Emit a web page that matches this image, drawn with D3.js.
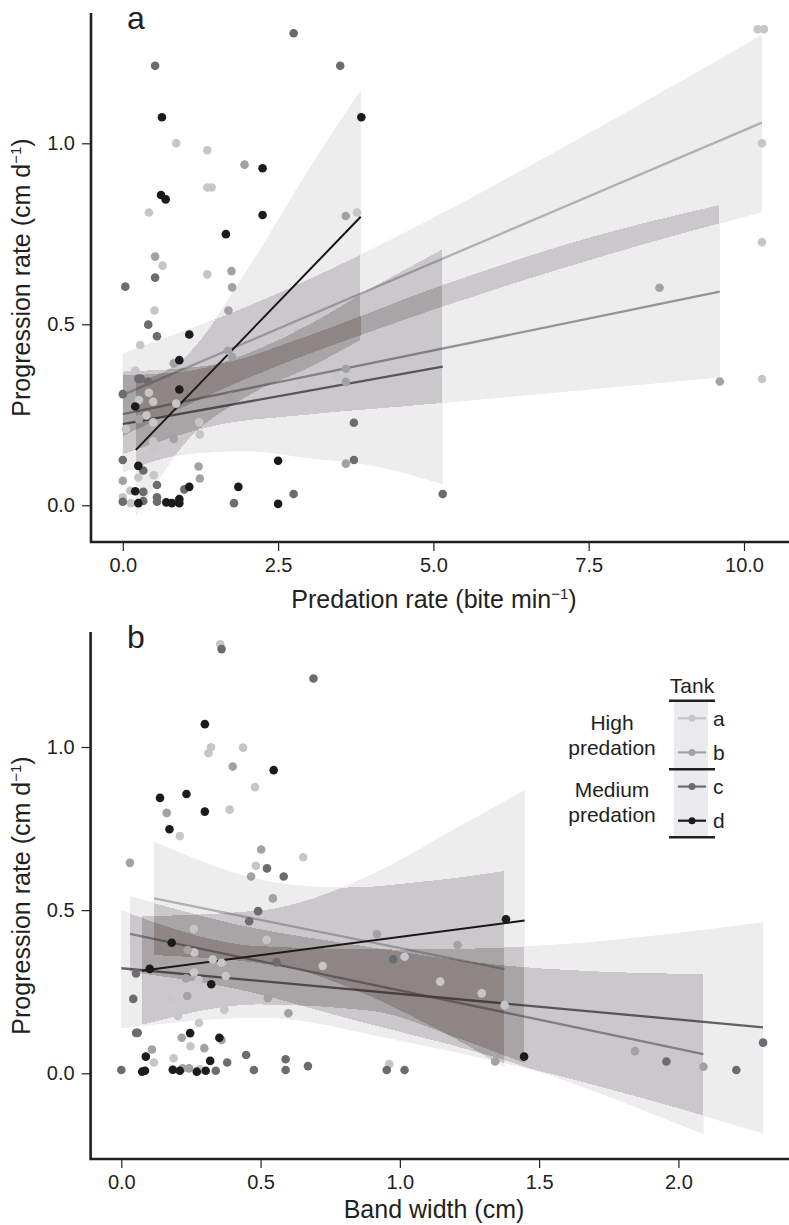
<!DOCTYPE html>
<html>
<head>
<meta charset="utf-8">
<script src="https://cdn.jsdelivr.net/npm/d3@7.9.0/dist/d3.min.js"></script>
<style>
  html, body { margin: 0; padding: 0; background: #fff; }
  svg { display: block; font-family: "Liberation Sans", Arial, Helvetica, sans-serif; }
  .tick text { fill: #231f20; }
</style>
</head>
<body>
<svg id="chart" width="789" height="1225"></svg>
<script>
// ---- data ----
const tanks = ['a', 'b', 'c', 'd'];
const tankColors = ['#c6c6c8', '#a2a2a5', '#6c6c70', '#1c1b1c'];
const lineColors = ['#bdbdc0', '#9e9ea1', '#67676b', '#141414'];

// panel a : predation rate (bite/min) vs progression rate (cm/d)
const predTankA = [[0.86,1.0],[1.36,0.981],[1.36,0.878],[1.43,0.878],[0.42,0.809],[3.77,0.809],[0.64,0.662],[1.36,0.638],[0.51,0.538],[0.28,0.443],[0.20,0.372],[0.42,0.311],[0.26,0.291],[0.49,0.286],[0.86,0.281],[0.38,0.248],[0.49,0.229],[0.05,0.211],[1.23,0.229],[1.24,0.196],[0.49,0.176],[0.49,0.155],[0.25,0.077],[0.50,0.083],[0.12,0.040],[0.0,0.022],[0.13,0.006],[2.85,0.33],[3.44,0.357],[10.22,1.315],[10.32,1.315],[10.29,1.0],[10.29,0.727],[10.29,0.349]];
const predTankB = [[1.96,0.941],[3.59,0.799],[0.52,0.687],[1.75,0.647],[1.76,0.602],[1.70,0.538],[0.82,0.392],[1.69,0.427],[1.76,0.41],[0.26,0.238],[1.74,0.30],[0.82,0.183],[1.22,0.107],[1.24,0.074],[0.0,0.068],[3.59,0.377],[3.59,0.341],[3.59,0.115],[8.64,0.601],[9.61,0.342]];
const predTankC = [[2.75,1.304],[0.52,1.214],[3.50,1.214],[0.52,0.629],[0.04,0.604],[0.41,0.499],[0.55,0.467],[0.25,0.35],[0.29,0.35],[0.41,0.342],[0.0,0.307],[0.0,0.125],[0.33,0.096],[0.55,0.056],[0.99,0.044],[0.33,0.037],[0.0,0.01],[0.33,0.012],[0.55,0.022],[0.55,0.01],[1.79,0.006],[2.75,0.031],[3.72,0.228],[3.72,0.125],[5.15,0.031]];
const predTankD = [[0.63,1.072],[3.84,1.072],[2.25,0.931],[0.615,0.857],[0.69,0.845],[2.25,0.802],[1.66,0.749],[1.07,0.472],[0.91,0.401],[0.91,0.32],[0.20,0.273],[0.25,0.109],[1.07,0.051],[0.20,0.039],[0.25,0.006],[0.70,0.008],[0.79,0.006],[0.91,0.017],[0.91,0.006],[1.86,0.051],[2.50,0.123],[2.50,0.004]];
// fitted lines [start, end]
const predFits = [[[0, 0.305], [10.29, 1.057]], [[0, 0.252], [9.61, 0.59]], [[0, 0.224], [5.15, 0.383]], [[0.21, 0.153], [3.83, 0.797]]];
// confidence bands [x, lower, upper]
const predBandA = [[0, 0.19, 0.42], [2, 0.35, 0.55], [4.5, 0.51, 0.75], [7, 0.65, 0.98], [10.29, 0.81, 1.30]];
const predBandB = [[0, 0.14, 0.37], [1.5, 0.22, 0.39], [3, 0.25, 0.47], [5, 0.28, 0.6], [7.5, 0.32, 0.74], [9.61, 0.354, 0.83]];
const predBandC = [[0, 0.09, 0.36], [1, 0.14, 0.37], [2, 0.15, 0.42], [3, 0.13, 0.5], [4, 0.11, 0.6], [5.15, 0.058, 0.708]];
const predBandD = [[0.21, -0.03, 0.34], [1.0, 0.17, 0.41], [2.0, 0.30, 0.65], [3.0, 0.38, 0.93], [3.83, 0.456, 1.147]];

// panel b : band width (cm) vs progression rate (cm/d)
const bandTankA = [[0.355,1.315],[0.322,0.999],[0.313,0.981],[0.437,0.998],[0.48,0.877],[0.389,0.808],[0.21,0.727],[0.653,0.662],[0.483,0.636],[0.26,0.442],[0.262,0.37],[0.522,0.409],[0.328,0.349],[0.36,0.339],[0.261,0.309],[0.375,0.298],[0.278,0.286],[0.177,0.229],[0.723,0.329],[0.203,0.176],[0.37,0.195],[0.279,0.154],[0.248,0.083],[0.117,0.033],[0.188,0.046],[0.185,0.011],[0.283,0.012],[0.962,0.028],[1.017,0.357],[1.145,0.281],[1.294,0.245],[1.376,0.209]];
const bandTankB = [[0.40,0.94],[0.163,0.798],[0.031,0.645],[0.502,0.686],[0.466,0.603],[0.544,0.536],[0.238,0.378],[0.232,0.291],[0.237,0.237],[0.526,0.23],[0.60,0.184],[0.217,0.109],[0.36,0.102],[0.298,0.077],[0.11,0.073],[0.22,0.015],[0.243,0.015],[0.918,0.426],[1.207,0.393],[1.342,0.036],[1.844,0.068],[2.09,0.02]];
const bandTankC = [[0.36,1.30],[0.69,1.21],[0.523,0.628],[0.583,0.603],[0.491,0.497],[0.459,0.466],[0.557,0.34],[0.053,0.306],[0.043,0.228],[0.053,0.124],[0.059,0.124],[0.38,0.033],[0.448,0.056],[0.59,0.043],[0.67,0.022],[0.0,0.01],[0.339,0.008],[0.476,0.01],[0.59,0.01],[0.953,0.01],[1.017,0.01],[0.976,0.349],[1.957,0.036],[2.208,0.01],[2.304,0.094]];
const bandTankD = [[0.30,1.07],[0.547,0.929],[0.139,0.844],[0.234,0.856],[0.30,0.802],[0.173,0.748],[0.181,0.40],[0.102,0.32],[0.323,0.273],[0.247,0.123],[0.352,0.109],[0.088,0.051],[0.319,0.038],[0.075,0.005],[0.085,0.008],[0.185,0.011],[0.21,0.008],[0.271,0.005],[0.303,0.008],[1.381,0.472],[1.446,0.051]];
const widthFits = [[[0.118, 0.536], [1.376, 0.319]], [[0.031, 0.427], [2.09, 0.059]], [[0, 0.322], [2.304, 0.141]], [[0.073, 0.314], [1.448, 0.468]]];
const widthBandA = [[0.118, 0.362, 0.71], [0.62, 0.32, 0.577], [0.81, 0.265, 0.57], [1.1, 0.15, 0.59], [1.376, 0.018, 0.621]];
const widthBandB = [[0.031, 0.31, 0.543], [0.4, 0.26, 0.46], [0.8, 0.17, 0.40], [1.43, 0.025, 0.327], [2.09, -0.186, 0.304]];
const widthBandC = [[0, 0.138, 0.50], [0.5, 0.17, 0.39], [1.0, 0.1, 0.38], [1.432, 0.02, 0.388], [2.304, -0.184, 0.463]];
const widthBandD = [[0.073, 0.148, 0.482], [0.5, 0.21, 0.50], [0.9, 0.19, 0.61], [1.2, 0.11, 0.75], [1.448, 0.03, 0.868]];

const yTicks = [0, 0.5, 1.0];
const predTicks = [0, 2.5, 5, 7.5, 10];
const widthTicks = [0, 0.5, 1.0, 1.5, 2.0];
const legendGroups = [['High', 'predation'], ['Medium', 'predation']];

// ---- drawing ----
const svg = d3.select('#chart');
const ink = '#231f20';

const defs = svg.append('defs');
const filt = defs.append('filter').attr('id', 'stack')
    .attr('color-interpolation-filters', 'sRGB')
    .attr('filterUnits', 'userSpaceOnUse')
    .attr('x', 0).attr('y', 0).attr('width', 789).attr('height', 1225);
// map the number of overlapping bands to a tone
const alphaTable = [0, 0.03, 0.055, 0.075, 0.085, 0.085, 0.085, 0.085, 0.245, 0.245, 0.245,
    0.40, 0.40, 0.53, 0.53, 0.53, 0.53, 0.53, 0.53, 0.53];
filt.append('feComponentTransfer')
    .append('feFuncA').attr('type', 'discrete').attr('tableValues', alphaTable.join(' '));
// cool grey where bands are alone, warmer where they pile up
filt.append('feColorMatrix').attr('type', 'matrix').attr('values', [
    0, 0, 0, 0.05, 0.14,
    0, 0, 0, -0.05, 0.13,
    0, 0, 0, -0.209, 0.208,
    0, 0, 0, 1, 0
].join(' '));

function drawPanel(opt) {
    const { x, y, left, top, bottom, points, fits, bands, xTicks, letter, xTitle, titleGap } = opt;
    const g = svg.append('g');

    // fitted lines sit under the bands
    const line = d3.line().x(d => x(d[0])).y(d => y(d[1]));
    fits.forEach((f, i) => {
        g.append('path').attr('d', line(f))
            .attr('fill', 'none')
            .attr('stroke', lineColors[i])
            .attr('stroke-width', i === 3 ? 2 : 2.3);
    });

    const area = d3.area()
        .x(d => x(d[0]))
        .y0(d => y(d[1]))
        .y1(d => y(d[2]))
        .curve(d3.curveMonotoneX);
    const bandG = g.append('g').attr('filter', 'url(#stack)');
    bands.forEach(b => {
        bandG.append('path').attr('d', area(b))
            .attr('fill', '#281e20')
            .attr('fill-opacity', 0.25);
    });

    // points on top, drawn in tank order
    points.forEach((pts, i) => {
        g.append('g').selectAll('circle')
            .data(pts)
            .enter()
            .append('circle')
            .attr('cx', d => x(d[0]))
            .attr('cy', d => y(d[1]))
            .attr('r', 4.3)
            .attr('fill', tankColors[i]);
    });

    // axes
    const xAxis = d3.axisBottom(x).tickValues(xTicks).tickFormat(d3.format('.1f'))
        .tickSize(9).tickPadding(7);
    const ga = g.append('g').attr('transform', `translate(0,${bottom})`).call(xAxis);
    const yAxis = d3.axisLeft(y).tickValues(yTicks).tickFormat(d3.format('.1f'))
        .tickSize(9).tickPadding(7);
    const gy = g.append('g').attr('transform', `translate(${left},0)`).call(yAxis);
    [ga, gy].forEach(a => {
        a.select('.domain').remove();
        a.selectAll('.tick line').attr('stroke', ink).attr('stroke-width', 1.2);
        a.selectAll('.tick text').attr('font-size', 20).attr('font-family', null);
    });

    g.append('path')
        .attr('d', `M${left},${top}V${bottom}H789`)
        .attr('fill', 'none')
        .attr('stroke', ink)
        .attr('stroke-width', 2.6);

    g.append('text').attr('x', 127).attr('y', top + 16)
        .attr('font-size', 32).attr('fill', ink).text(letter);

    const xt = g.append('text').attr('x', 434).attr('y', bottom + titleGap)
        .attr('text-anchor', 'middle').attr('font-size', 25).attr('fill', ink);
    xTitle(xt);

    const yt = g.append('text')
        .attr('transform', `translate(21,${(top + bottom) / 2}) rotate(-90)`)
        .attr('text-anchor', 'middle').attr('dy', '0.35em')
        .attr('font-size', 25).attr('fill', ink);
    yt.append('tspan').text('Progression rate (cm d');
    yt.append('tspan').attr('font-size', 15).attr('dy', -9).text('\u22121');
    yt.append('tspan').attr('dy', 9).text(')');
}

drawPanel({
    x: d3.scaleLinear().domain([0, 10]).range([122.8, 744]),
    y: d3.scaleLinear().domain([0, 1]).range([505.3, 143.3]),
    left: 91, top: 13, bottom: 542, titleGap: 66,
    points: [predTankA, predTankB, predTankC, predTankD],
    fits: predFits,
    bands: [predBandA, predBandB, predBandC, predBandD],
    xTicks: predTicks,
    letter: 'a',
    xTitle: t => {
        t.append('tspan').text('Predation rate (bite min');
        t.append('tspan').attr('font-size', 15).attr('dy', -9).text('\u22121');
        t.append('tspan').attr('dy', 9).text(')');
    }
});

drawPanel({
    x: d3.scaleLinear().domain([0, 2]).range([121.3, 678.4]),
    y: d3.scaleLinear().domain([0, 1]).range([1073.3, 747]),
    left: 90.6, top: 632, bottom: 1159, titleGap: 59,
    points: [bandTankA, bandTankB, bandTankC, bandTankD],
    fits: widthFits,
    bands: [widthBandA, widthBandB, widthBandC, widthBandD],
    xTicks: widthTicks,
    letter: 'b',
    xTitle: t => t.text('Band width (cm)')
});

// ---- legend ----
const lg = svg.append('g');
const itemY = d3.scalePoint().domain(tanks).range([718.3, 820.7]);
lg.append('rect').attr('x', 674).attr('y', 702).attr('width', 34).attr('height', 135)
    .attr('fill', '#ebebed');
lg.append('text').attr('x', 692).attr('y', 693).attr('text-anchor', 'middle')
    .attr('font-size', 21).attr('fill', ink).text('Tank');
[700.7, 769.3, 837.3].forEach(ry => {
    lg.append('line').attr('x1', 669).attr('x2', 715).attr('y1', ry).attr('y2', ry)
        .attr('stroke', ink).attr('stroke-width', 2.6);
});
tanks.forEach((t, i) => {
    const yy = itemY(t);
    lg.append('line').attr('x1', 678).attr('x2', 706).attr('y1', yy).attr('y2', yy)
        .attr('stroke', tankColors[i]).attr('stroke-width', 2.2);
    lg.append('circle').attr('cx', 692).attr('cy', yy).attr('r', 3.5).attr('fill', tankColors[i]);
    lg.append('text').attr('x', 713).attr('y', yy).attr('dy', '0.35em')
        .attr('font-size', 21).attr('fill', ink).text(t);
});
legendGroups.forEach((lines, gi) => {
    lines.forEach((s, li) => {
        lg.append('text').attr('x', 612).attr('y', 730 + gi * 67.3 + li * 25)
            .attr('text-anchor', 'middle').attr('font-size', 21).attr('fill', ink).text(s);
    });
});
</script>
</body>
</html>
